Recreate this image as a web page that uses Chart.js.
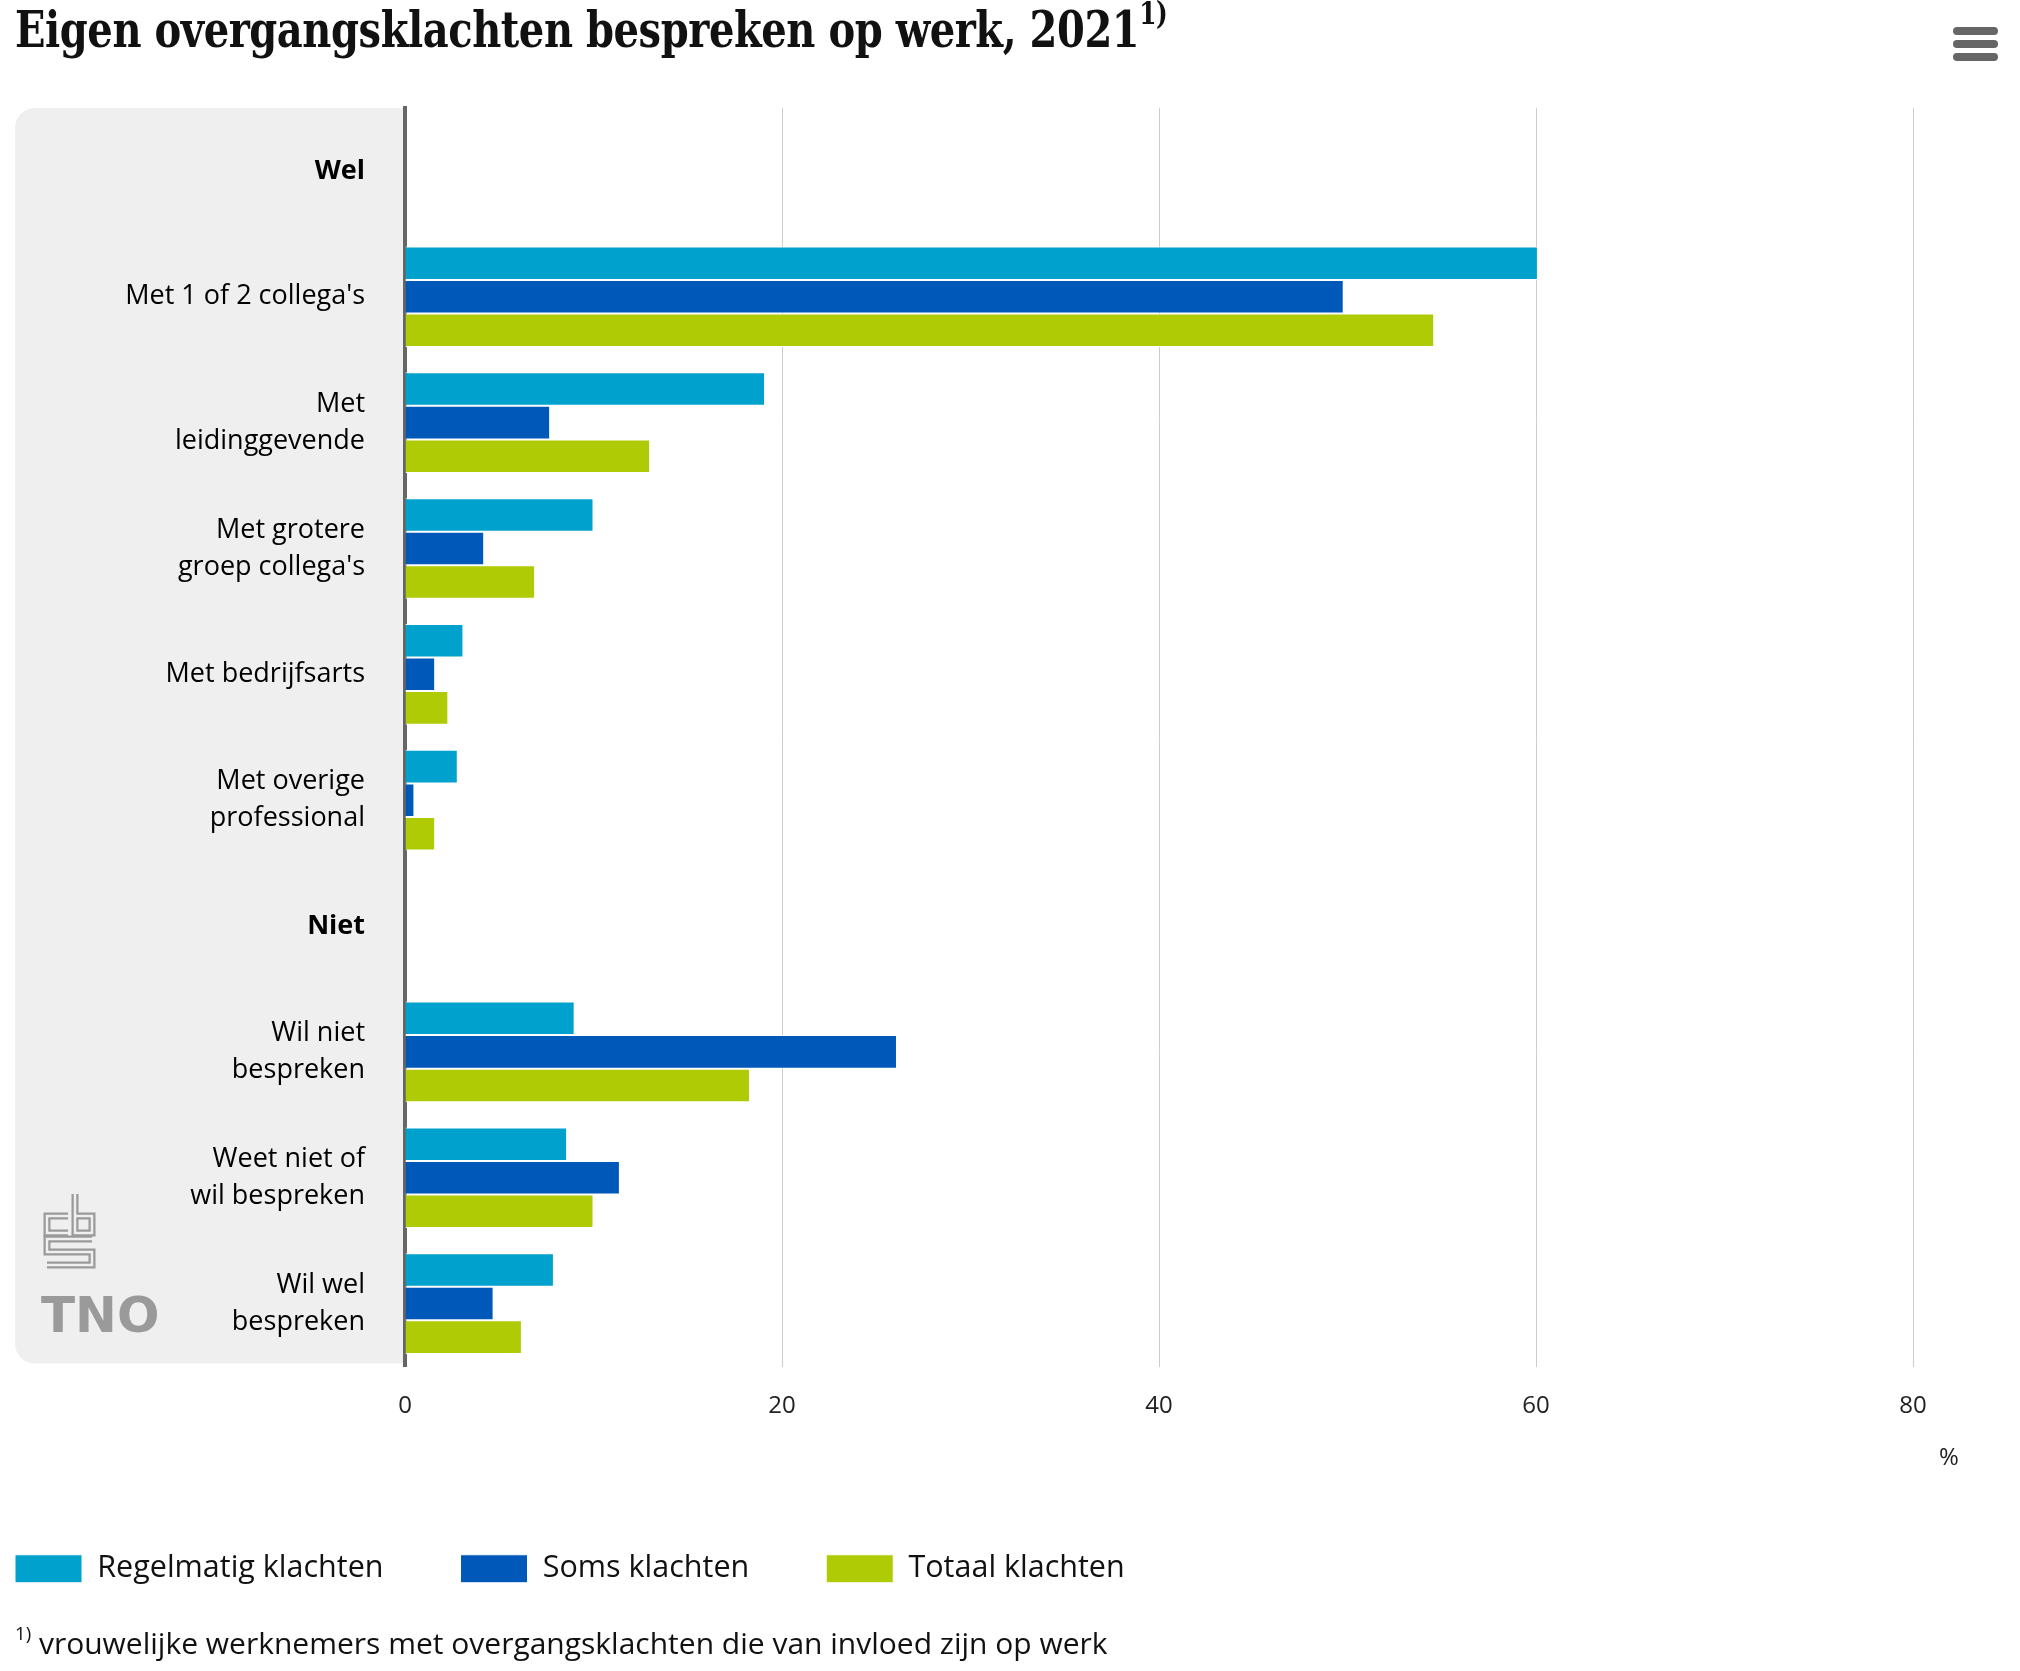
<!DOCTYPE html>
<html>
<head>
<meta charset="utf-8">
<script src="https://cdn.jsdelivr.net/npm/chart.js@4.4.1/dist/chart.umd.min.js"></script>
<style>
  html, body { margin: 0; padding: 0; background: #fff; }
  #wrap { position: relative; width: 2020px; height: 1671px; overflow: hidden; }
  #chart { position: absolute; left: 0; top: 0; }
  #title {
    position: absolute; left: 15px; top: 0px;
    font-family: "DejaVu Serif Condensed", "DejaVu Serif", serif;
    font-stretch: condensed; font-weight: bold; font-size: 50px;
    color: #111; white-space: nowrap; letter-spacing: -0.5px;
    transform: scaleX(0.89); transform-origin: 0 0;
  }
  #title sup, #footnote sup { font-size: 0.62em; vertical-align: 0.75em; line-height: 0; }
  #footnote {
    position: absolute; left: 15px; top: 1622px;
    font-family: "Open Sans", sans-serif; font-size: 30px; color: #111; white-space: nowrap;
  }
  .bar { position: absolute; left: 1953px; width: 45px; height: 8px; border-radius: 4px; background: #666; }
</style>
</head>
<body>
<div id="wrap">
  <canvas id="chart" width="2020" height="1671"></canvas>
  <div id="title">Eigen overgangsklachten bespreken op werk, 2021<sup>1)</sup></div>
  <div class="bar" style="top:27px"></div>
  <div class="bar" style="top:40px"></div>
  <div class="bar" style="top:53px"></div>
  <div id="footnote"><sup>1)</sup> vrouwelijke werknemers met overgangsklachten die van invloed zijn op werk</div>
</div>
<script>
// categories (group headers have no bars)
const categories = [
  "Wel",
  "Met 1 of 2 collega's",
  ["Met", "leidinggevende"],
  ["Met grotere", "groep collega's"],
  "Met bedrijfsarts",
  ["Met overige", "professional"],
  "Niet",
  ["Wil niet", "bespreken"],
  ["Weet niet of", "wil bespreken"],
  ["Wil wel", "bespreken"],
];
const groupHeaders = ["Wel", "Niet"];

const regelmatig = [null, 60.1, 19.1, 10.0, 3.1, 2.8, null, 9.0, 8.6, 7.9];
const soms = [null, 49.8, 7.7, 4.2, 1.6, 0.5, null, 26.1, 11.4, 4.7];
const totaal = [null, 54.6, 13.0, 6.9, 2.3, 1.6, null, 18.3, 10.0, 6.2];

const seriesNames = ["Regelmatig klachten", "Soms klachten", "Totaal klachten"];
const seriesColors = ["#00a1cd", "#0058b8", "#afcb05"];
const xTicks = [0, 20, 40, 60, 80];

const labelFont = '"Open Sans", sans-serif';

// grey panel behind the category labels, logos and the % unit
const decorations = {
  id: "decorations",
  beforeDraw(chart) {
    const ctx = chart.ctx;
    const area = chart.chartArea;
    ctx.save();
    ctx.fillStyle = "#efefef";
    ctx.beginPath();
    ctx.roundRect(15, area.top, area.left - 17, area.bottom - area.top - 3, [20, 0, 0, 20]);
    ctx.fill();

    // cbs mark, drawn as outlined strokes
    const paths = [
      [[68, 1216], [47, 1216], [47, 1233], [68, 1233]],
      [[75, 1194], [75, 1233], [92, 1233], [92, 1216], [75, 1216]],
      [[92, 1239], [47, 1239], [47, 1252], [92, 1252], [92, 1265], [47, 1265]],
    ];
    [[7, "#9a9a9a"], [2.5, "#efefef"]].forEach(function (s) {
      ctx.lineWidth = s[0];
      ctx.strokeStyle = s[1];
      ctx.lineJoin = "miter";
      paths.forEach(function (p) {
        ctx.beginPath();
        ctx.moveTo(p[0][0], p[0][1]);
        for (let i = 1; i < p.length; i++) ctx.lineTo(p[i][0], p[i][1]);
        ctx.stroke();
      });
    });

    ctx.fillStyle = "#9a9a9a";
    ctx.font = 'bold 50px "DejaVu Sans", sans-serif';
    ctx.textBaseline = "alphabetic";
    ctx.textAlign = "left";
    ctx.fillText("TNO", 41, 1332);
    ctx.restore();
  },
  afterDraw(chart) {
    const ctx = chart.ctx;
    ctx.save();
    ctx.fillStyle = "#222";
    ctx.font = "24px " + labelFont;
    ctx.textAlign = "center";
    ctx.textBaseline = "middle";
    ctx.fillText("%", chart.chartArea.right + 36, 1458);
    ctx.restore();
  },
};

function buildDatasets() {
  return [regelmatig, soms, totaal].map(function (values, i) {
    return {
      label: seriesNames[i],
      data: values,
      backgroundColor: seriesColors[i],
      borderColor: "#ffffff",
      borderWidth: 1,
      barPercentage: 1,
      categoryPercentage: 0.8,
    };
  });
}

window.onload = function () {
  const el = document.getElementById("chart").getContext("2d");
  new Chart(el, {
    type: "bar",
    data: { labels: categories, datasets: buildDatasets() },
    plugins: [decorations],
    options: {
      indexAxis: "y",
      responsive: false,
      animation: false,
      layout: { padding: { left: -62, right: 107, top: 108, bottom: 77 } },
      plugins: {
        title: { display: false },
        tooltip: { enabled: false },
        legend: {
          position: "bottom",
          align: "start",
          labels: {
            boxWidth: 67,
            boxHeight: 28,
            padding: 77,
            color: "#111",
            font: { family: labelFont, size: 30.5 },
          },
        },
      },
      scales: {
        x: {
          min: xTicks[0],
          max: xTicks[xTicks.length - 1],
          afterBuildTicks: function (scale) {
            scale.ticks = xTicks.map(function (v) { return { value: v }; });
          },
          afterFit: function (scale) { scale.height = 110; },
          grid: { color: "#cccccc", lineWidth: 1, drawTicks: false },
          border: { display: false },
          ticks: { padding: 25, color: "#222", font: { family: labelFont, size: 24 } },
        },
        y: {
          afterFit: function (scale) { scale.width = 467; },
          grid: { display: false, drawTicks: false },
          border: { display: true, color: "#666666", width: 4 },
          ticks: {
            autoSkip: false,
            padding: 40,
            color: "#000",
            font: function (ctx) {
              const lab = categories[ctx.index];
              const bold = groupHeaders.indexOf(lab) >= 0;
              return { family: labelFont, size: 27, weight: bold ? "bold" : "normal", lineHeight: 1.38 };
            },
          },
        },
      },
    },
  });
};
</script>
</body>
</html>
